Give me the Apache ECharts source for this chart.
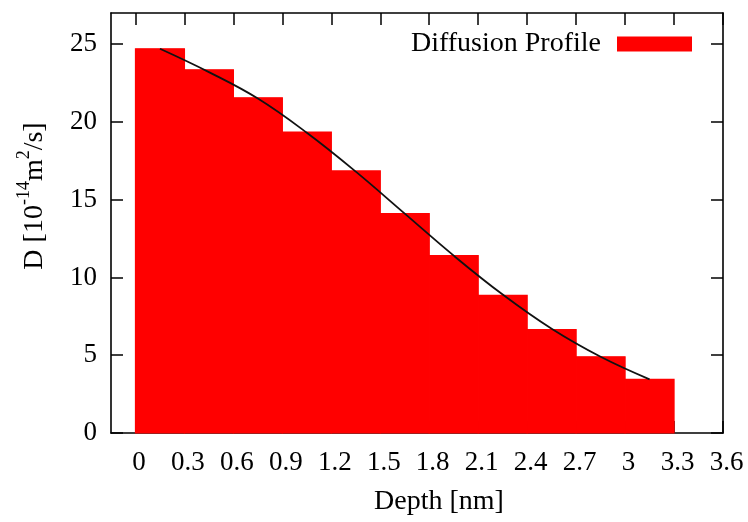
<!DOCTYPE html>
<html><head><meta charset="utf-8">
<script src="https://cdn.jsdelivr.net/npm/echarts@6/dist/echarts.min.js"></script>
<style>html,body{margin:0;padding:0;background:#fff}#c{width:748px;height:522px}</style>
</head><body><div id="c"></div>
<script>
// Data
const binStart = [0, 0.3, 0.6, 0.9, 1.2, 1.5, 1.8, 2.1, 2.4, 2.7, 3.0];
const binWidth = 0.3;
const diffusion = [24.7, 23.35, 21.55, 19.35, 16.85, 14.1, 11.4, 8.85, 6.65, 4.9, 3.45];
const curveX = [0.15, 0.45, 0.75, 1.05, 1.35, 1.65, 1.95, 2.25, 2.55, 2.85, 3.15];
const curveY = [24.7, 23.2, 21.5, 19.3, 16.8, 14.1, 11.4, 8.9, 6.7, 4.9, 3.45];
const xTicks = [0, 0.3, 0.6, 0.9, 1.2, 1.5, 1.8, 2.1, 2.4, 2.7, 3, 3.3, 3.6];
const yTicks = [0, 5, 10, 15, 20, 25];
const seriesName = 'Diffusion Profile';

const FONT = 'Liberation Serif';
const chart = echarts.init(document.getElementById('c'), null, {renderer: 'canvas'});
const axisLineStyle = {color: '#000', width: 1.6};
const tickStyle = {color: '#000', width: 1.5};

chart.setOption({
  animation: false,
  backgroundColor: '#fff',
  grid: {left: 111, right: 25, top: 13, bottom: 89},
  legend: {
    data: [{name: seriesName, icon: 'rect'}],
    selectedMode: false,
    right: 51, top: 25,
    align: 'right',
    itemWidth: 75, itemHeight: 15,
    textStyle: {fontFamily: FONT, fontSize: 28, color: '#000', padding: [0, 11, 0, 0]}
  },
  xAxis: [{
    type: 'value', position: 'bottom', min: -0.15, max: 3.6,
    axisLine: {show: true, onZero: false, lineStyle: axisLineStyle},
    axisTick: {show: true, inside: true, length: 12, customValues: xTicks, lineStyle: tickStyle},
    axisLabel: {customValues: xTicks, formatter: v => String(v), fontFamily: FONT, fontSize: 27, color: '#000', margin: 16, padding: [0, 0, 0, 7]},
    splitLine: {show: false},
    name: 'Depth [nm]', nameLocation: 'middle', nameGap: 55,
    nameTextStyle: {fontFamily: FONT, fontSize: 28, color: '#000', padding: [0, 0, 0, 44]}
  }, {
    type: 'value', position: 'top', min: -0.15, max: 3.6,
    axisLine: {show: true, onZero: false, lineStyle: axisLineStyle},
    axisTick: {show: true, inside: true, length: 12, customValues: xTicks, lineStyle: tickStyle},
    axisLabel: {show: false},
    splitLine: {show: false}
  }],
  yAxis: [{
    type: 'value', position: 'left', min: 0, max: 27,
    axisLine: {show: true, onZero: false, lineStyle: axisLineStyle},
    axisTick: {show: true, inside: true, length: 12, customValues: yTicks, lineStyle: tickStyle},
    axisLabel: {customValues: yTicks, fontFamily: FONT, fontSize: 27, color: '#000', margin: 14},
    splitLine: {show: false},
    name: '{n|D [10}{s|-14}{n|m}{s|2}{n|/s]}',
    nameLocation: 'middle', nameGap: 62,
    nameTextStyle: {
      color: '#000', padding: [0, 0, 0, 54],
      rich: {
        n: {fontFamily: FONT, fontSize: 28, color: '#000', lineHeight: 34, verticalAlign: 'bottom'},
        s: {fontFamily: FONT, fontSize: 18, color: '#000', lineHeight: 18, verticalAlign: 'top'}
      }
    }
  }, {
    type: 'value', position: 'right', min: 0, max: 27,
    axisLine: {show: true, onZero: false, lineStyle: axisLineStyle},
    axisTick: {show: true, inside: true, length: 12, customValues: yTicks, lineStyle: tickStyle},
    axisLabel: {show: false},
    splitLine: {show: false}
  }],
  series: [{
    name: seriesName,
    type: 'custom',
    xAxisIndex: 0, yAxisIndex: 0,
    itemStyle: {color: '#ff0000'},
    encode: {x: [0, 1], y: 2},
    data: binStart.map((s, i) => [s, s + binWidth, diffusion[i]]),
    renderItem: function (params, api) {
      const p0 = api.coord([api.value(0), api.value(2)]);
      const p1 = api.coord([api.value(1), 0]);
      return {
        type: 'rect',
        shape: {x: p0[0], y: p0[1], width: p1[0] - p0[0], height: p1[1] - p0[1]},
        style: {fill: '#ff0000', stroke: '#ff0000', lineWidth: 1.2}
      };
    }
  }, {
    name: 'fit',
    type: 'line',
    xAxisIndex: 0, yAxisIndex: 0,
    data: curveX.map((x, i) => [x, curveY[i]]),
    smooth: 0.4,
    symbol: 'none',
    lineStyle: {color: '#111', width: 1.8},
    z: 5
  }]
});
</script></body></html>
